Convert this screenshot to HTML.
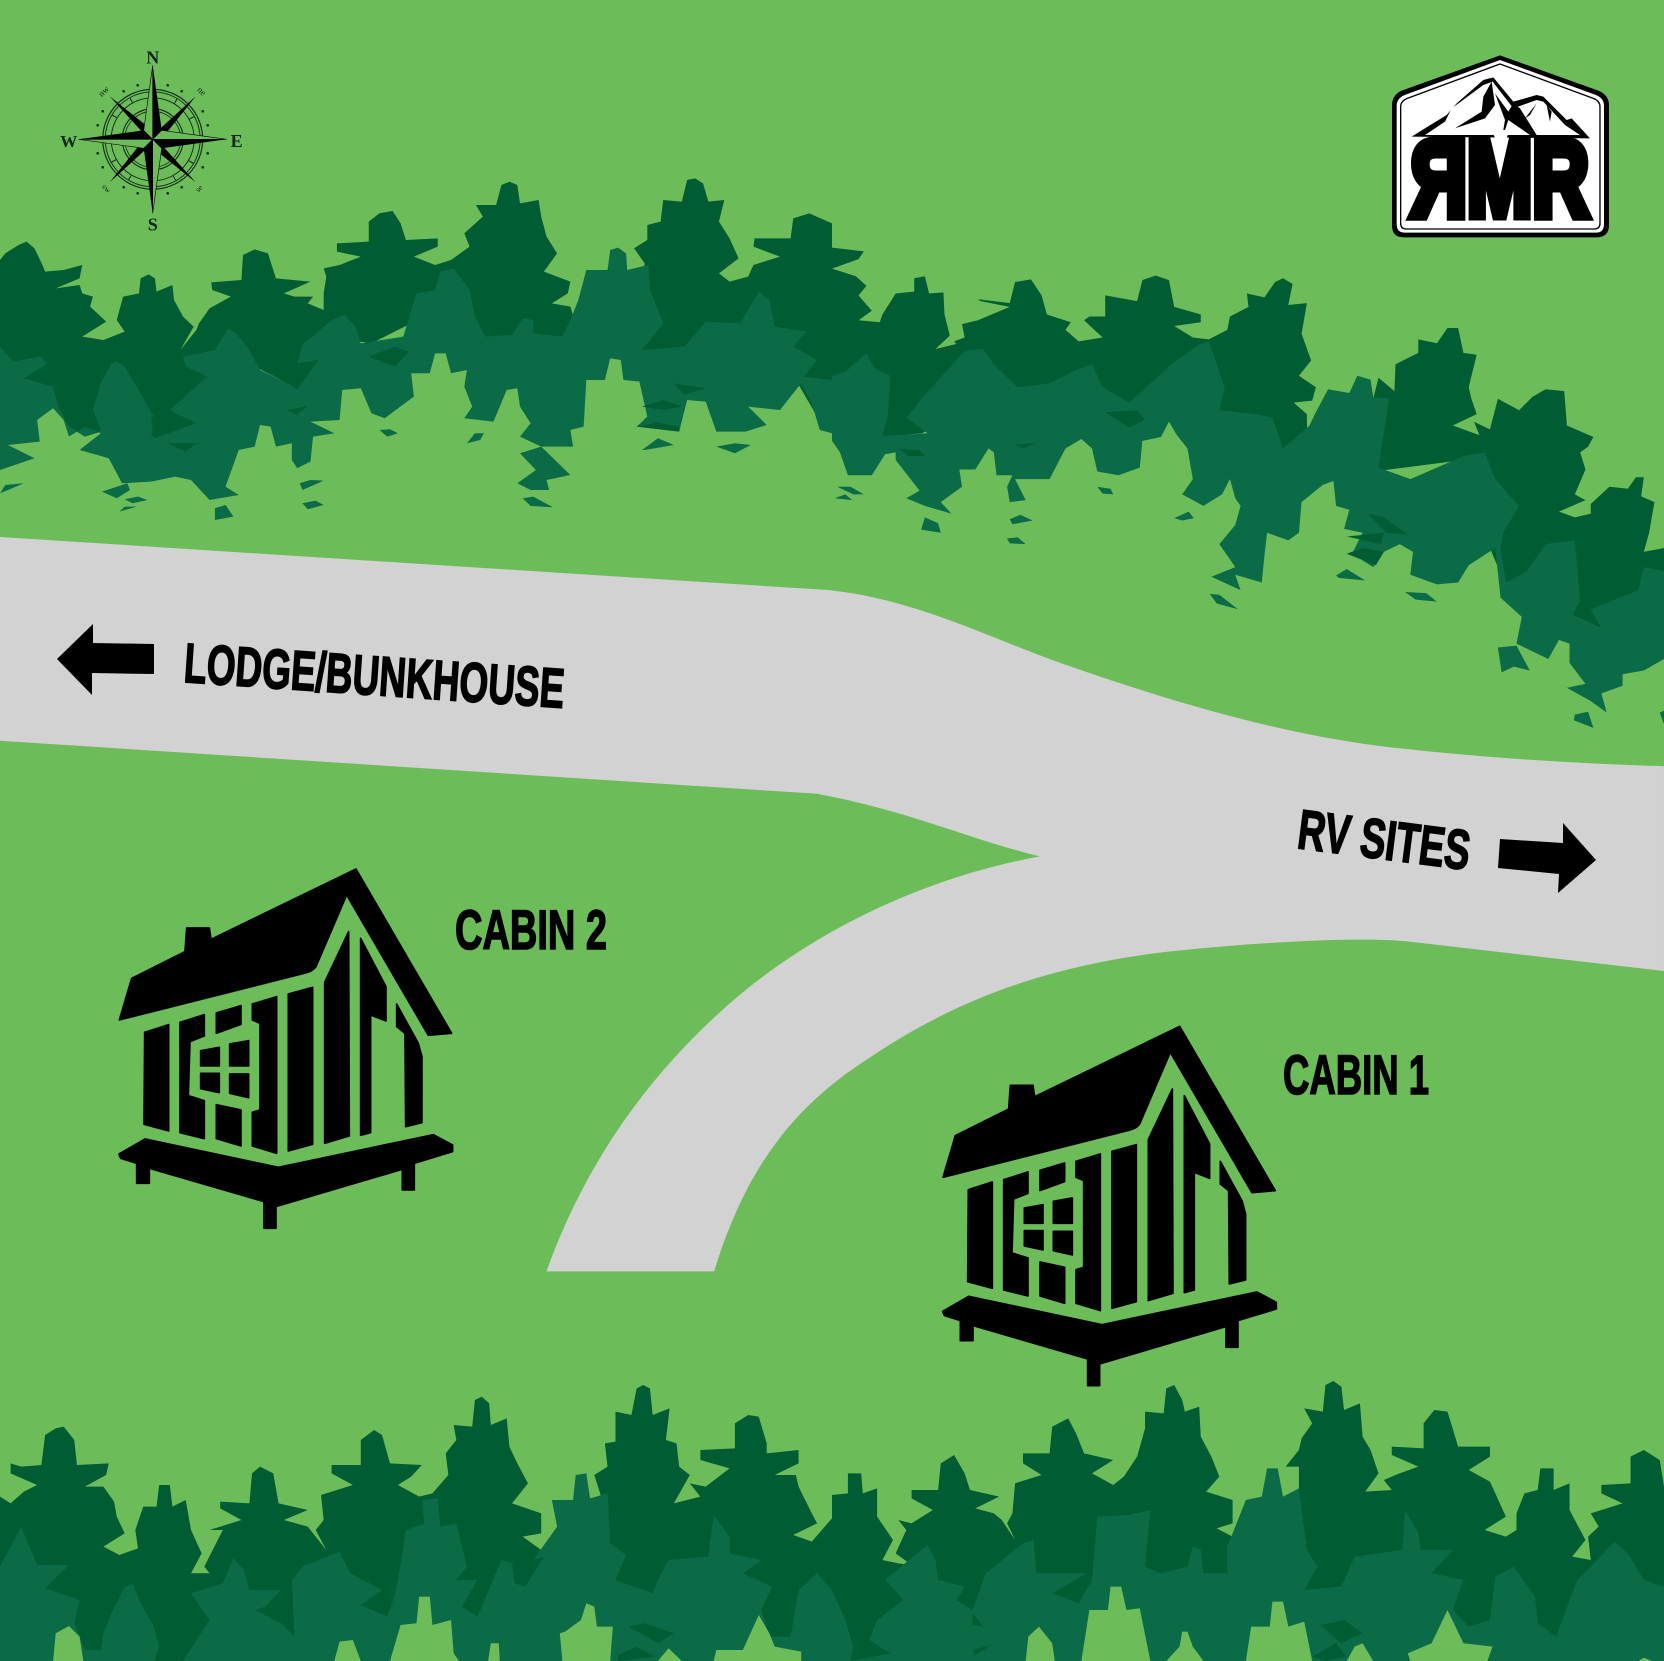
<!DOCTYPE html>
<html><head><meta charset="utf-8"><title>Map</title>
<style>html,body{margin:0;padding:0;background:#6dbc5a}svg{display:block}</style></head>
<body>
<svg xmlns="http://www.w3.org/2000/svg" width="1664" height="1661" viewBox="0 0 1664 1661">
<defs>
<g id="cabin" fill="#000" stroke="#000" stroke-width="5" stroke-linejoin="round">
<path d="M58,510L95,385L255,305L260,234H328L333,268L768,57L1055,550L985,556L740,135L648,350Q640,362 620,368Z"/>
<path d="M134,547L206,524V843L132,823Z"/>
<path d="M240,517L313,494V558L270,575L265,737L313,752V866L240,848Z"/>
<path d="M349,489L423,467V523L349,550Z"/>
<path d="M457,462L530,440V910L457,888V787L480,780V520L457,510Z"/>
<path d="M565,432L638,412V883L565,903Z"/>
<path d="M674,397L746,245L748,858L674,880Z"/>
<path d="M782,265L858,410V513L812,495V848L782,856Z"/>
<path d="M890,462L955,580L966,620V818L917,830L915,550L890,530Z"/>
<path d="M302,602L358,592V648H302Z"/><path d="M389,582L446,572V648H389Z"/>
<path d="M302,670H358V728L302,716Z"/><path d="M389,672H446V743L389,730Z"/>
<path d="M349,764L423,780V888L349,866Z"/>
<path d="M57,912L135,867L535,952L1000,854L1058,885V905L943,940V1020H907V958L528,1070V1135H492V1055L148,955V1000H110V940L62,925Z"/>
</g>
</defs>
<rect width="1664" height="1661" fill="#6dbc5a"/>

<!-- road -->
<g transform="scale(1.0612)">
<path fill="#d2d2d2" d="M0,506L780,556C860,564 930,600 1000,625C1100,660 1200,690 1300,703C1400,715 1500,720 1568,722V915L1325,887C1270,882 1160,890 1090,898C960,915 880,955 810,1003C740,1050 700,1110 673,1198L515,1198C550,1100 610,1010 700,935C780,870 880,825 980,807C910,790 860,765 770,748L0,698Z"/>
</g>

<!-- top trees left -->
<g transform="translate(0,150) scale(.5306,.3333)">
<path fill="#005c33" d="M0,330L10,310L35,285L50,275L65,295L80,345L85,365L120,360L155,345L150,385L105,415L150,405L155,430L175,440L170,470L200,515L155,560L195,570L235,545L220,510L232,440L262,430L265,385L280,373L292,385L295,425L325,405L328,450L345,500L365,530L340,600L370,540L375,520L395,475L435,440L400,420L398,397L455,390L458,315L480,298L505,310L520,385L585,395L535,430L555,440L590,440L580,460L610,480L610,430L615,380L610,355L640,345L680,320L635,305L635,280L695,275L695,215L715,190L740,183L755,220L765,270L825,265L825,290L780,320L820,345L850,330L885,290L875,250L882,240L910,200L897,165L935,165L945,105L960,95L975,105L980,160L1015,150L1020,200L1030,260L1050,310L1025,365L1075,395L1070,430L1040,460L1075,470L1090,550L1200,500L1215,340L1195,295L1220,270L1220,225L1245,215L1250,150L1285,155L1295,90L1310,85L1325,100L1335,155L1365,150L1355,215L1375,265L1392,325L1355,370L1375,395L1410,380L1420,345L1470,320L1420,290L1422,265L1490,265L1495,205L1525,190L1568,220V700L1540,800L1500,690L1400,650L1310,720L1240,640L1100,600L1000,560L960,620L930,640L880,600L800,500L700,580L620,560L600,640L560,720L530,690L480,650L430,600L370,820L340,860L275,860L250,730L225,650L200,840L160,860L130,830L100,760L60,760L0,700Z"/>
<path fill="#0c6b47" d="M0,590L25,635L75,620L90,640L45,685L100,710L110,770L130,830L160,860L190,840L175,780L190,700L210,640L220,635L235,650L265,730L290,800L285,860L370,820L330,790L320,780L390,680L350,650L345,620L405,600L430,535L445,550L470,600L490,660L530,690L560,720L600,630L560,640L570,585L625,510L650,495L670,530L680,580L720,570L760,560L785,430L820,420L830,365L855,355L885,420L895,500L915,560L965,555L985,505L1005,510L1005,550L1060,560L1075,510L1090,450L1105,360L1145,360L1150,300L1165,293L1180,310L1182,360L1222,345L1225,420L1250,520L1210,600L1290,590L1330,515L1395,520L1430,425L1450,450L1460,530L1520,545L1495,590L1540,630L1515,680L1568,690V850L1545,840L1530,760L1510,700L1470,780L1410,770L1445,825L1405,845L1350,845L1330,755L1295,750L1280,845L1200,830L1220,800L1205,695L1175,690L1170,630L1150,625L1140,690L1105,690L1100,830L1075,840L1080,890L1020,890L1075,975L1030,990L1035,1020L975,1000L1010,960L980,910L1020,890L980,860L1000,820L980,770L975,715L955,720L930,815L875,805L890,770L875,710L880,660L850,670L840,610L820,610L810,670L775,670L780,740L725,805L700,790L680,715L645,720L640,810L585,815L630,850L590,860L585,935L560,955L550,930L550,880L520,890L510,830L490,825L480,890L450,900L425,1010L450,1035L395,1050L360,990L330,980L285,995L230,1000L205,925L150,900L190,850L160,830L130,860L120,810L100,775L70,810L75,875L15,885L65,925L0,960Z"/>
<g fill="#005c33">
<path d="M695,620L745,590L770,605L745,650Z"/><path d="M540,780L580,768L560,795Z"/><path d="M315,880L370,880L350,905Z"/><path d="M1200,830L1240,818L1280,830L1280,845Z"/><path d="M1210,770L1250,750L1285,770L1250,780Z"/><path d="M1270,700L1330,715L1290,735Z"/><path d="M285,800L370,820L290,865Z"/>
</g>
<g fill="#0c6b47">
<path d="M715,840L735,838L750,850L730,860Z"/><path d="M880,880L895,850L912,850L905,870Z"/><path d="M235,1048L260,1040L278,1050L250,1060Z"/><path d="M225,1085L235,1070L258,1070Z"/><path d="M192,1025L240,1000L245,1020L220,1045Z"/><path d="M0,1030L10,1005L45,1000L15,1020Z"/><path d="M565,1000L585,990L610,992L570,1020Z"/><path d="M570,1060L595,1052L610,1065L580,1078Z"/><path d="M405,1075L425,1065L440,1100L405,1110Z"/><path d="M975,1000L1000,985L1035,1020L1000,1020Z"/><path d="M985,1045L1005,1040L1042,1072L1000,1068Z"/><path d="M1210,900L1240,865L1270,885L1215,900Z"/><path d="M1350,890L1385,880L1415,885L1385,910Z"/>
</g>
</g>

<!-- top trees right -->
<g transform="translate(832,150) scale(.5306,.3827)">
<path fill="#005c33" d="M0,255L60,265L50,285L0,310L45,330L65,355L50,380L75,420L50,445L90,450L95,430L120,375L155,370L155,335L175,330L183,375L210,372L212,430L222,485L195,520L240,505L250,530L230,500L250,490L245,455L275,445L335,410L280,395L275,390L335,400L345,345L375,338L395,380L405,430L450,450L440,470L465,500L510,490L475,445L485,435L515,435L515,380L575,395L585,340L610,328L635,340L645,410L695,430L695,450L645,460L680,490L710,495L745,470L750,435L785,410L782,375L815,385L835,345L850,335L868,350L860,405L895,400L885,480L903,550L880,590L912,620L905,655L870,660L895,690L895,720L900,800L1000,760L1030,595L1060,630L1062,560L1105,530L1105,495L1140,505L1160,465L1180,465L1190,530L1215,535L1200,620L1205,650L1215,690L1170,720L1220,745L1210,710L1240,730L1255,650L1295,680L1320,645L1345,625L1380,630L1385,720L1435,750L1425,775L1410,790L1420,835L1400,900L1420,915L1370,945L1400,960L1430,950L1430,925L1465,880L1500,885L1515,855L1530,855L1525,905L1550,920L1540,1000L1530,1050L1568,1040V1100L1530,1150L1450,1250L1395,1215L1320,1110L1270,1140L1240,1040L1190,810L1020,840L900,800L850,790L720,780L640,640L560,665L510,630L400,690L300,640L170,740L90,750L95,640L60,620L0,620Z"/>
<path fill="#0c6b47" d="M0,590L25,580L65,530L80,570L110,590L105,700L95,748L180,740L140,700L175,640L250,525L285,520L305,560L350,620L410,610L460,575L490,560L510,620L560,660L640,560L690,510L710,500L720,540L740,620L730,680L800,690L830,700L850,780L900,720L910,690L935,625L975,635L990,590L1015,600L1020,645L1050,650L1040,740L1030,830L1090,860L1190,800L1230,790L1250,860L1295,930L1265,1000L1260,1040L1270,1130L1310,1100L1345,1030L1400,1020L1410,1180L1395,1215L1450,1250L1430,1200L1520,1150L1530,1090L1568,1100V1330L1530,1360L1490,1370L1490,1400L1450,1420L1460,1470L1430,1440L1385,1405L1420,1395L1390,1340L1390,1290L1370,1280L1350,1330L1290,1290L1300,1220L1260,1170L1250,1040L1200,1085L1180,1130L1140,1135L1090,1110L1095,1050L1070,1030L1040,1050L1020,1090L980,1055L1000,1000L965,990L975,940L950,930L945,865L925,875L885,920L880,1000L860,1020L820,1000L815,1060L810,1130L760,1110L770,1150L715,1115L760,1090L730,1030L760,980L770,930L760,910L750,860L735,900L700,930L660,900L680,860L670,780L650,745L635,710L620,750L585,760L580,830L540,850L500,840L490,780L470,755L440,780L410,860L345,860L365,915L335,920L330,880L340,850L310,850L305,790L295,780L270,835L240,835L245,880L205,920L225,950L175,930L140,910L165,890L120,810L120,790L100,795L75,850L30,850L15,790L0,760Z"/>
<g fill="#005c33">
<path d="M515,685L575,680L590,705L560,725Z"/><path d="M345,770L385,765L360,780Z"/><path d="M125,780L165,785L175,800L145,800Z"/><path d="M1000,1040L1040,1050L1025,1085L970,1055Z"/><path d="M970,1010L1040,1000L1035,1030Z"/>
<path d="M1010,950L1040,960L1085,1005L1045,1000Z"/>
</g>
<g fill="#0c6b47">
<path d="M175,960L200,975L205,1000L168,992Z"/><path d="M335,965L355,953L378,968L340,978Z"/><path d="M330,1015L350,1012L365,1030L335,1028Z"/><path d="M500,880L525,885L530,900L510,898Z"/><path d="M645,962L672,945L682,962L660,968Z"/><path d="M950,1112L970,1095L1005,1125L955,1118Z"/><path d="M712,1160L730,1162L765,1200L725,1185Z"/><path d="M1080,1155L1120,1158L1140,1180L1100,1175Z"/><path d="M1255,1300L1290,1295L1315,1360L1285,1350L1262,1365Z"/><path d="M1400,1475L1425,1468L1435,1510L1398,1490Z"/><path d="M10,880L35,880L60,900L40,900Z"/><path d="M5,910L25,900L38,915Z"/>
<path d="M1560,1470L1568,1465V1500Z"/>
</g>
</g>

<!-- bottom trees left -->
<g transform="translate(0,1360) scale(.5306,.3333)">
<path fill="#005c33" d="M0,410L20,430L45,395L70,375L20,340L20,310L40,320L78,315L85,225L105,205L120,200L140,240L145,315L205,310L200,345L160,380L195,380L215,425L220,470L235,520L195,560L225,585L260,565L255,510L270,440L295,440L300,375L320,375L325,440L350,420L360,510L380,580L360,640L395,640L385,620L420,510L395,510L455,480L415,445L415,425L470,430L475,340L490,320L515,340L525,430L580,450L535,480L580,500L615,570L595,510L610,480L605,405L665,375L625,340L625,315L680,315L680,240L705,210L720,225L735,310L795,315L775,350L750,375L790,410L815,400L845,345L840,280L860,240L855,195L890,200L895,120L908,110L922,130L925,195L955,175L960,260L975,310L995,370L965,430L1020,460L1020,520L985,530L1020,570L1030,620L1100,600L1145,470L1120,345L1145,320L1140,250L1160,245L1160,155L1190,165L1200,85L1212,75L1225,85L1230,165L1262,145L1255,240L1275,250L1280,320L1300,345L1270,430L1320,410L1300,370L1330,380L1375,325L1320,300L1320,270L1385,265L1385,190L1410,165L1430,170L1445,250L1445,280L1505,270L1505,310L1460,345L1500,345L1505,380L1530,460L1540,490L1495,525L1530,545L1568,475V903H0Z"/>
<path fill="#0c6b47" d="M0,620L40,500L70,615L130,615L85,685L150,720L140,790L160,870L190,870L195,820L210,760L235,680L250,670L265,730L290,800L300,860L290,903H345L395,780L360,700L420,670L440,595L460,630L470,690L530,690L500,740L480,750L530,790L555,830L550,660L570,620L640,575L660,640L720,690L680,735L730,770L745,700L750,660L765,510L800,490L795,420L825,415L830,500L860,490L880,620L860,660L900,660L870,740L900,770L945,600L965,610L970,670L990,680L1025,590L1005,600L1050,500L1040,420L1080,420L1085,345L1105,340L1112,415L1145,400L1150,550L1180,585L1160,660L1230,700L1240,660L1260,600L1335,590L1345,465L1375,530L1375,580L1435,600L1400,640L1455,680L1435,750L1450,830L1490,830L1505,690L1540,640L1568,690V903H0Z"/>
<g fill="#6dbc5a">
<path d="M100,903L105,820L130,798L150,830L157,903Z"/><path d="M630,903L640,845L665,840L680,903Z"/>
<path d="M735,903L755,795L785,790L790,710L810,710L815,795L850,780L855,880L865,903Z"/>
<path d="M920,903L925,850L940,850L942,903Z"/>
<path d="M1055,820L1065,815L1095,780L1105,730L1120,740L1125,800L1155,800L1150,903H1060Z"/>
<path d="M1240,903L1260,865L1285,903Z"/>
<path d="M1345,903L1350,870L1400,870L1430,765L1450,820L1460,860L1510,875V903Z"/>
</g>
<g fill="#005c33"><path d="M1185,800L1215,790L1270,820L1240,850Z"/><path d="M1165,885L1200,860L1235,890L1165,903Z"/></g>
</g>

<!-- bottom trees right -->
<g transform="translate(832,1360) scale(.5306,.3333)">
<path fill="#005c33" d="M0,405L30,400L30,340L55,340L58,400L85,385L85,470L115,540L95,600L125,610L150,615L120,580L140,510L125,480L150,490L190,450L150,415L150,390L200,390L205,310L230,285L250,340L260,390L315,410L270,445L305,460L320,480L345,540L330,490L340,460L345,370L395,345L360,310L360,280L410,280L415,200L445,175L460,220L475,280L530,300L490,340L530,375L550,350L575,290L590,205L590,155L625,160L630,85L645,75L660,120L665,155L692,140L695,230L715,290L730,350L705,395L755,420L755,490L725,505L755,530L755,590L820,600L880,400L880,320L855,320L880,270L885,235L905,190L890,145L925,155L930,75L945,63L960,80L965,150L995,130L1000,230L1015,270L1030,340L1005,395L1055,390L1040,360L1070,340L1105,320L1055,285L1055,260L1115,265L1115,190L1135,150L1160,155L1180,260L1240,260L1240,290L1200,330L1240,365L1270,470L1230,510L1270,530L1290,510L1290,460L1305,400L1330,390L1335,325L1360,325L1360,390L1390,370L1390,450L1420,540L1395,590L1430,600L1425,530L1445,500L1430,460L1490,430L1450,400L1450,375L1505,370L1505,290L1530,270L1560,300L1568,380V903H0Z"/>
<path fill="#0c6b47" d="M0,690L25,780L40,860L35,903L110,880L70,840L85,780L135,720L100,660L160,580L180,555L195,600L200,660L250,680L235,720L265,750L290,640L360,550L380,540L385,640L480,640L415,700L465,730L490,660L500,470L560,465L600,450L590,620L620,640L670,620L680,560L695,570L700,640L745,640L745,560L780,420L810,410L820,325L840,325L850,410L880,385L895,570L915,620L890,690L960,680L985,590L1075,570L1080,450L1105,520L1110,570L1170,570L1130,640L1190,660L1170,750L1200,800L1240,780L1250,650L1285,620L1325,710L1330,790L1365,830L1390,720L1405,660L1475,545L1500,580L1530,660L1568,680V903H0Z"/>
<g fill="#6dbc5a">
<path d="M365,903L370,830L390,800L415,850L420,903Z"/>
<path d="M470,903L485,750L520,750L525,680L545,680L555,750L580,745L600,903Z"/>
<path d="M630,903L655,860L660,815L670,815L680,860L700,903Z"/>
<path d="M780,903L790,800L825,800L830,725L850,725L860,800L890,785L905,903Z"/>
<path d="M970,903L985,860L1000,850L1020,903Z"/>
<path d="M1085,880L1130,850L1160,750L1190,850L1245,860L1235,903H1090Z"/>
<path d="M1520,903L1530,893L1545,903Z"/>
</g>
<g fill="#005c33"><path d="M920,795L965,780L1000,820L960,850Z"/><path d="M905,890L950,850L970,890L930,903Z"/><path d="M265,870L300,855L270,885Z"/><path d="M265,760L285,800L265,795Z"/></g>
</g>

<!-- cabins -->
<use href="#cabin" transform="translate(100,850) scale(.3333)"/>
<use href="#cabin" transform="translate(923.67,1007.33) scale(.3333)"/>

<!-- labels -->
<g font-family="'Liberation Sans Narrow','Liberation Sans',sans-serif" font-weight="700" fill="#000" stroke="#000" stroke-width="1.6">
<text transform="translate(183,682) rotate(3.9)" font-size="56" textLength="381" lengthAdjust="spacingAndGlyphs">LODGE/BUNKHOUSE</text>
<text transform="translate(1296,848) rotate(7.3)" font-size="56" textLength="173" lengthAdjust="spacingAndGlyphs">RV SITES</text>
<text x="455" y="949" font-size="56" textLength="152" lengthAdjust="spacingAndGlyphs">CABIN 2</text>
<text x="1283" y="1094" font-size="56" textLength="146" lengthAdjust="spacingAndGlyphs">CABIN 1</text>
</g>
<path d="M57,659L93,624L93,643L154,644V674L92,673L92,695Z"/>
<path d="M1500,839L1563,843L1563,823L1596,860L1558,893L1559,874L1498,868Z"/>

<!-- compass -->
<g transform="translate(152.7,139.3)">
<g fill="none" stroke="#0a2a12">
<circle r="50" stroke-width="1.1"/><circle r="47.5" stroke-width=".9"/><circle r="41.5" stroke-width=".9"/>
<circle r="30.5" stroke-width="1.1"/><circle r="28" stroke-width=".8"/>
<circle r="44.5" stroke-width="5" stroke-dasharray="1 22.3"/>
</g>
<g fill="#0a2a12">
<circle cx="-15" cy="-54" r="1.3"/><circle cx="15" cy="-54" r="1.3"/><circle cx="-15" cy="54" r="1.3"/><circle cx="15" cy="54" r="1.3"/>
<circle cx="-55" cy="-14" r="1.3"/><circle cx="-55" cy="14" r="1.3"/><circle cx="55" cy="-14" r="1.3"/><circle cx="55" cy="14" r="1.3"/>
<circle cx="-29" cy="-48" r="1.3"/><circle cx="29" cy="-48" r="1.3"/><circle cx="-29" cy="48" r="1.3"/><circle cx="29" cy="48" r="1.3"/>
<circle cx="-50" cy="-28" r="1.3"/><circle cx="50" cy="-28" r="1.3"/><circle cx="-50" cy="28" r="1.3"/><circle cx="50" cy="28" r="1.3"/>
</g>
<g fill="#000">
<path d="M0,0L-12,-9L-43,-43L-8,-15Z"/><path d="M0,0L9,-12L43,-43L15,-8Z"/><path d="M0,0L12,9L43,43L8,15Z"/><path d="M0,0L-9,12L-43,43L-15,8Z"/>
</g>
<g fill="#6dbc5a" stroke="#000" stroke-width=".6">
<path d="M0,-74L-9,-9L0,0Z"/><path d="M74,0L9,-9L0,0Z"/><path d="M0,74L9,9L0,0Z"/><path d="M-74,0L-9,9L0,0Z"/>
</g>
<g fill="#000">
<path d="M0,-74L9,-9L0,0Z"/><path d="M74,0L9,9L0,0Z"/><path d="M0,74L-9,9L0,0Z"/><path d="M-74,0L-9,-9L0,0Z"/>
</g>
<g font-family="'Liberation Serif',serif" font-weight="700" fill="#0a2a12" text-anchor="middle">
<text x="0" y="-76" font-size="18">N</text><text x="0" y="91" font-size="18">S</text>
<text x="84" y="7.5" font-size="18">E</text><text x="-84" y="7.5" font-size="17">W</text>
<text transform="translate(-47,-46) rotate(-45)" font-size="9" font-weight="400">nw</text>
<text transform="translate(47,-46) rotate(45)" font-size="9" font-weight="400">ne</text>
<text transform="translate(-48,51) rotate(45)" font-size="8" font-weight="400">sw</text>
<text transform="translate(48,51) rotate(-45)" font-size="8" font-weight="400">se</text>
</g>
</g>

<!-- logo -->
<g transform="translate(1380,40) scale(.3333)">
<path fill="#000" d="M360,46L655,152Q687,165 687,195V555Q687,592 650,592H70Q36,592 36,555V195Q36,165 65,152Z"/>
<path fill="#fff" d="M360,60L648,165Q672,175 672,197V552Q672,578 648,578H74Q50,578 50,552V197Q50,175 74,165Z"/>
<path fill="none" stroke="#000" stroke-width="4" d="M360,72L640,175Q660,183 660,200V550Q660,567 642,567H80Q62,567 62,550V200Q62,183 82,175Z"/>
<path fill="#000" d="M95,290L130,268L200,225L230,190L310,120L340,112L400,185L470,165L490,170L560,240L575,235L630,295Z"/>
<path fill="#fff" d="M135,285L195,245L215,205L310,135L338,125L400,205L470,180L490,185L555,255L600,285Z"/>
<path fill="#000" d="M335,125L310,170L305,215L225,265L315,235L345,195ZM345,160L375,240L365,300L385,240L450,285H470L420,205L400,190L385,215ZM470,190L435,235L450,225ZM500,195L510,245L515,215Z"/>
<text x="92" y="526" font-family="'Liberation Sans',sans-serif" font-weight="700" font-size="322" textLength="535" lengthAdjust="spacingAndGlyphs" fill="#000" stroke="#000" stroke-width="30">ЯMR</text>
<path fill="#fff" d="M335,270H390L362,335Z"/>
</g>
</svg>
</body></html>
